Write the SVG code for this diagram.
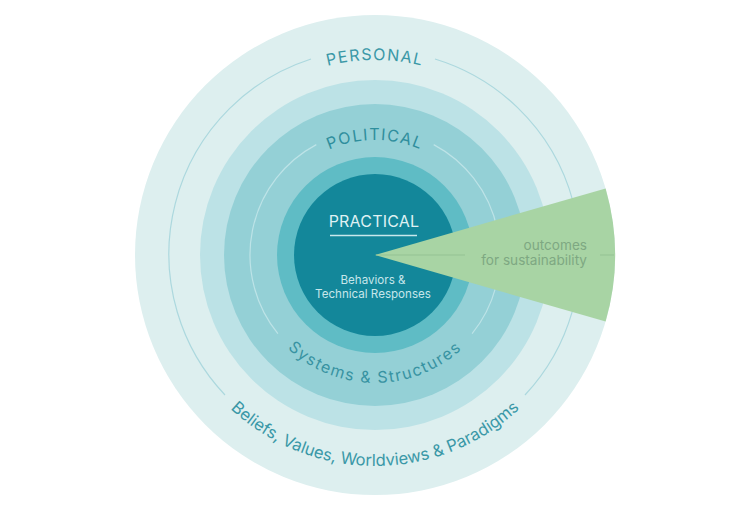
<svg xmlns="http://www.w3.org/2000/svg" xmlns:xlink="http://www.w3.org/1999/xlink" width="746" height="510" viewBox="0 0 746 510">
  <style>
    text { font-family: Inter, "Noto Sans", "Liberation Sans", sans-serif; }
    .ringlabel { font-size: 16px; letter-spacing: 1.4px; }
    .thin { fill: none; stroke-width: 1.2; }
    .outc { font-size: 13.6px; fill: #7ea882; }
  </style>
  <defs>
    <path id="pPersonal" d="M180,255 A195,195 0 0 1 570,255"/>
    <path id="pPolitical" d="M260,255 A115,115 0 0 1 490,255"/>
    <path id="pSystems" d="M247,255 A128,128 0 0 0 503,255"/>
    <path id="pBeliefs" d="M164,255 A211,211 0 0 0 586,255"/>
  </defs>
  <rect width="746" height="510" fill="#ffffff"/>

  <g id="personal">
    <circle cx="375" cy="255" r="240" fill="#ddefef"/>
    <path class="thin" stroke="#acd8de" d="M311.0,59.0 A205,205 0 0 0 225.0,395.0"/>
    <path class="thin" stroke="#acd8de" d="M435.0,59.0 A205,205 0 0 1 525.0,395.0"/>
    <text class="ringlabel" fill="#3a98a7"><textPath xlink:href="#pPersonal" startOffset="50%" text-anchor="middle">PERSONAL</textPath></text>
    <text fill="#3a98a7" style="font-size:16.6px"><textPath xlink:href="#pBeliefs" startOffset="50%" text-anchor="middle">Beliefs, Values, Worldviews &amp; Paradigms</textPath></text>
  </g>

  <g id="political">
    <circle cx="375" cy="255" r="175" fill="#bce2e6"/>
    <circle cx="375" cy="255" r="151" fill="#94d0d6"/>
    <path class="thin" stroke="#bde3e7" d="M316.3,144.6 A125,125 0 0 0 277.9,333.7"/>
    <path class="thin" stroke="#bde3e7" d="M433.7,144.6 A125,125 0 0 1 472.1,333.7"/>
    <text class="ringlabel" fill="#2f8e9d"><textPath xlink:href="#pPolitical" startOffset="50%" text-anchor="middle">POLITICAL</textPath></text>
    <text class="ringlabel" fill="#3893a2" style="letter-spacing:1.5px"><textPath xlink:href="#pSystems" startOffset="50%" text-anchor="middle">Systems &amp; Structures</textPath></text>
  </g>

  <g id="practical">
    <circle cx="375" cy="255" r="98" fill="#5fbcc5"/>
    <circle cx="375" cy="255" r="81" fill="#13879a"/>
    <text x="374" y="227" text-anchor="middle" fill="#dff1f3" style="font-size:16px;letter-spacing:0.2px">PRACTICAL</text>
    <line x1="330" y1="235.5" x2="417" y2="235.5" stroke="#c8e8ec" stroke-width="1.5"/>
    <text x="373" y="284" text-anchor="middle" fill="#c6e6ea" style="font-size:11.6px">Behaviors &amp;</text>
    <text x="373" y="298" text-anchor="middle" fill="#c6e6ea" style="font-size:11.6px">Technical Responses</text>
  </g>

  <g id="outcomes">
    <path d="M375,255 L605.6,188.4 A240,240 0 0 1 605.6,321.6 Z" fill="#a8d4a4"/>
    <text class="outc" x="587" y="249.5" text-anchor="end">outcomes</text>
    <text class="outc" x="587" y="265" text-anchor="end">for sustainability</text>
  </g>

  <g id="connectors">
    <line x1="376" y1="255" x2="465" y2="255" stroke="#94c293" stroke-width="1"/>
    <line x1="600" y1="255" x2="614" y2="255" stroke="#94c293" stroke-width="1"/>
  </g>
</svg>
